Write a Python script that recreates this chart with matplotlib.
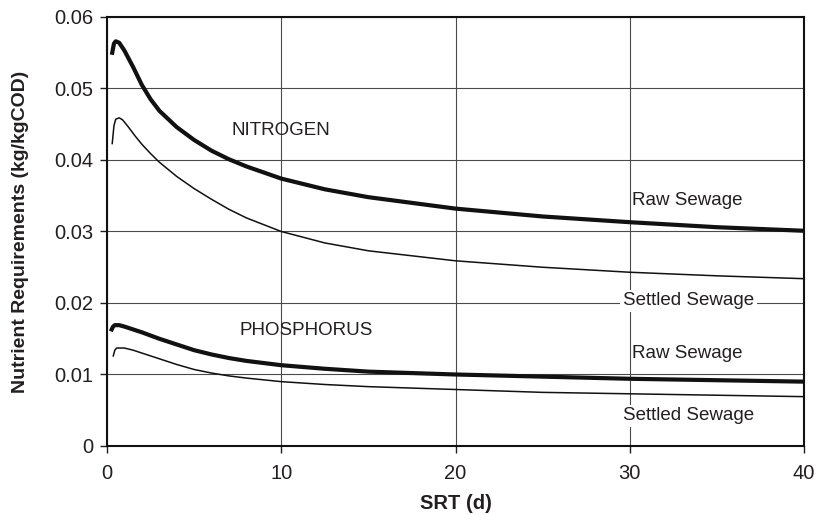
import matplotlib
matplotlib.use("Agg")
import matplotlib.pyplot as plt

plt.rcParams['font.family'] = ['Liberation Sans', 'DejaVu Sans']

# Nitrogen, raw sewage
srt_raw_n = [0.3, 0.4, 0.5, 0.7, 1.0, 1.5, 2.0, 2.5, 3, 4, 5, 6, 7, 8, 10, 12.5, 15, 20, 25, 30, 35, 40]
raw_n = [0.0550, 0.0563, 0.0566, 0.0564, 0.0553, 0.0530, 0.0505, 0.0485, 0.0469, 0.0446, 0.0428, 0.0413,
         0.0401, 0.0391, 0.0374, 0.0359, 0.0348, 0.0332, 0.0321, 0.0313, 0.0306, 0.0301]
# Nitrogen, settled sewage
srt_set_n = [0.3, 0.4, 0.5, 0.7, 0.9, 1.2, 1.6, 2.0, 2.5, 3, 4, 5, 6, 7, 8, 10, 12.5, 15, 20, 25, 30, 35, 40]
settled_n = [0.0423, 0.0448, 0.0457, 0.0459, 0.0456, 0.0447, 0.0434, 0.0422, 0.0409, 0.0397, 0.0377, 0.0360,
             0.0345, 0.0331, 0.0319, 0.0300, 0.0284, 0.0273, 0.0259, 0.0250, 0.0243, 0.0238, 0.0234]
# Phosphorus, raw sewage
srt_raw_p = [0.27, 0.35, 0.45, 0.7, 1.0, 1.5, 2, 3, 4, 5, 6, 7, 8, 10, 12.5, 15, 20, 25, 30, 35, 40]
raw_p = [0.0163, 0.0167, 0.0169, 0.0169, 0.0167, 0.0163, 0.0159, 0.0150, 0.0142, 0.0134, 0.0128, 0.0123,
         0.0119, 0.0113, 0.0108, 0.0104, 0.0100, 0.0097, 0.0094, 0.0092, 0.0090]
# Phosphorus, settled sewage
srt_set_p = [0.36, 0.45, 0.55, 1.0, 1.5, 2, 3, 4, 5, 6, 7, 8, 10, 12.5, 15, 20, 25, 30, 35, 40]
settled_p = [0.0126, 0.0134, 0.0137, 0.0137, 0.0134, 0.0130, 0.0122, 0.0114, 0.0107, 0.0102, 0.0098, 0.0095,
             0.0090, 0.0086, 0.0083, 0.0079, 0.0075, 0.0073, 0.0071, 0.0069]

xticks = [0, 10, 20, 30, 40]
yticks = [0, 0.01, 0.02, 0.03, 0.04, 0.05, 0.06]
ytick_labels = ['0', '0.01', '0.02', '0.03', '0.04', '0.05', '0.06']

dark = '#231f20'
fig = plt.figure(figsize=(8.18, 5.15), dpi=100)
ax = fig.add_axes([0.1308, 0.1340, 0.8521, 0.8330])

ax.plot(srt_raw_n, raw_n, color='#111111', lw=3.0, solid_joinstyle='round')
ax.plot(srt_set_n, settled_n, color='#111111', lw=1.1, solid_joinstyle='round')
ax.plot(srt_raw_p, raw_p, color='#111111', lw=3.0, solid_joinstyle='round')
ax.plot(srt_set_p, settled_p, color='#111111', lw=1.1, solid_joinstyle='round')

ax.set_xlim(0, 40)
ax.set_ylim(0, 0.06)
ax.set_xticks(xticks)
ax.set_xticklabels([str(t) for t in xticks])
ax.set_yticks(yticks)
ax.set_yticklabels(ytick_labels)
ax.tick_params(axis='both', labelsize=14.5, direction='out', length=5, width=1, colors=dark)
ax.tick_params(axis='x', pad=8)
ax.tick_params(axis='y', pad=5)
ax.grid(True, color='#4a4a4a', lw=0.8)
ax.set_axisbelow(True)
for s in ax.spines.values():
    s.set_linewidth(1.5)
    s.set_color('#111111')

ax.set_xlabel('SRT (d)', fontsize=14.5, fontweight='bold', labelpad=8, color=dark)
ax.set_ylabel('Nutrient Requirements (kg/kgCOD)', fontsize=14, fontweight='bold', labelpad=18, color=dark)

fs = 13.5
ax.text(7.15, 0.0441, 'NITROGEN', fontsize=fs, va='center', ha='left', color=dark)
ax.text(30.15, 0.0343, 'Raw Sewage', fontsize=fs, va='center', ha='left', color=dark)
ax.text(29.6, 0.0203, 'Settled Sewage', fontsize=fs, va='center', ha='left', color=dark,
        bbox=dict(facecolor='white', edgecolor='none', pad=2))
ax.text(7.6, 0.0161, 'PHOSPHORUS', fontsize=fs, va='center', ha='left', color=dark)
ax.text(30.15, 0.0129, 'Raw Sewage', fontsize=fs, va='center', ha='left', color=dark)
ax.text(29.6, 0.0042, 'Settled Sewage', fontsize=fs, va='center', ha='left', color=dark,
        bbox=dict(facecolor='white', edgecolor='none', pad=2))

fig.savefig('out.png', dpi=100)
